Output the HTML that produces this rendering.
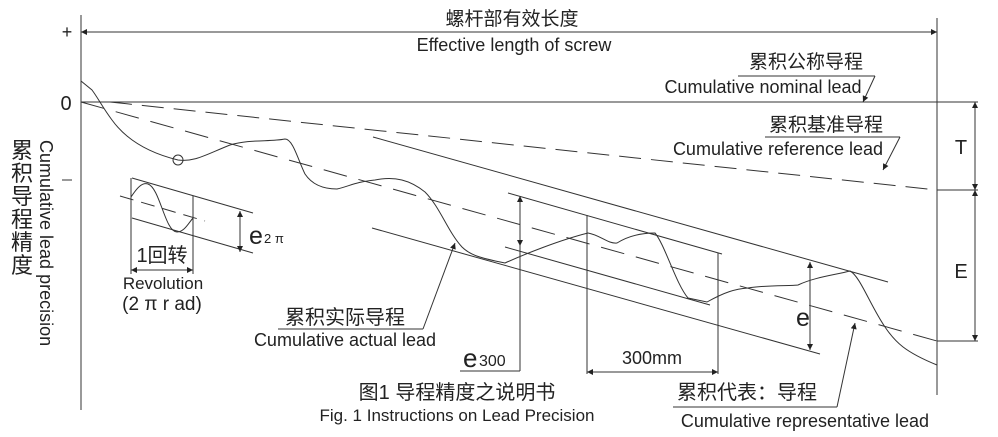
<!DOCTYPE html>
<html><head><meta charset="utf-8"><style>
html,body{margin:0;padding:0;background:#fff;}
svg{display:block;}
text{font-family:"Liberation Sans","Noto Sans CJK SC",sans-serif;fill:#222;}
</style></head><body>
<svg width="998" height="437" viewBox="0 0 998 437" xmlns="http://www.w3.org/2000/svg">
<defs>
<marker id="a" viewBox="0 0 10 10" refX="10" refY="5" markerWidth="14" markerHeight="6" orient="auto-start-reverse" markerUnits="userSpaceOnUse"><path d="M0,0 L10,5 L0,10 z" fill="#222"/></marker>
</defs>
<g stroke="#333" stroke-width="1" fill="none">
<line x1="81" y1="15" x2="81" y2="410"/>
<line x1="937" y1="18" x2="937" y2="395"/>
<line x1="81" y1="32" x2="937" y2="32" marker-start="url(#a)" marker-end="url(#a)"/>
<line x1="81" y1="102" x2="978" y2="102"/>
<line x1="937" y1="190" x2="978" y2="190"/>
<line x1="937" y1="341" x2="978" y2="341"/>
<line x1="975" y1="102" x2="975" y2="190" marker-start="url(#a)" marker-end="url(#a)"/>
<line x1="975" y1="190" x2="975" y2="341" marker-start="url(#a)" marker-end="url(#a)"/>
<line x1="110" y1="102" x2="937" y2="190" stroke-dasharray="22,10"/>
<line x1="81" y1="102" x2="937" y2="341" stroke-dasharray="24,12"/>
<line x1="373" y1="137" x2="888" y2="282"/>
<line x1="372" y1="228" x2="820" y2="354"/>
<line x1="508" y1="193" x2="722" y2="254"/>
<line x1="505" y1="247" x2="710" y2="305"/>
<line x1="520" y1="196" x2="520" y2="246" marker-start="url(#a)" marker-end="url(#a)"/>
<line x1="520" y1="246" x2="520" y2="371"/>
<line x1="460" y1="371" x2="520" y2="371"/>
<line x1="587" y1="215" x2="587" y2="374"/>
<line x1="718" y1="253" x2="718" y2="374"/>
<line x1="587" y1="372" x2="718" y2="372" marker-start="url(#a)" marker-end="url(#a)"/>
<line x1="810" y1="262" x2="810" y2="350" marker-start="url(#a)" marker-end="url(#a)"/>
<line x1="131" y1="178" x2="131" y2="274"/>
<line x1="193" y1="196" x2="193" y2="274"/>
<line x1="131" y1="270" x2="193" y2="270" marker-start="url(#a)" marker-end="url(#a)"/>
<line x1="132" y1="178" x2="253" y2="213"/>
<line x1="132" y1="218" x2="253" y2="253"/>
<line x1="120" y1="196" x2="205" y2="221" stroke-dasharray="14,8"/>
<path d="M131,197 C137,188 142,182 148,184 C160,188 165,232 177,232 C184,232 188,224 193,218"/>
<line x1="240" y1="211" x2="240" y2="252" marker-start="url(#a)" marker-end="url(#a)"/>
<path d="M81,81 L92,90 C98,98 103,108 112,120 C125,138 145,152 178,160 C195,162 205,155 230,145 C250,139 270,142 285,139 C293,139 298,160 305,174 C313,186 325,189 337,189 C350,186 355,182 375,180 C395,176 410,180 425,192 C440,207 448,232 462,247 C470,255 480,258 505,263 C525,254 560,240 588,233 C600,235 608,244 617,243 C628,236 642,233 655,233 C665,245 676,284 688,298 L707,302 C725,292 735,289 748,288 C765,285 790,286 798,285 C815,277 835,275 850,271 C860,276 870,305 885,327 C895,342 905,352 937,365"/>
<circle cx="178" cy="160" r="5"/>
<line x1="738" y1="76" x2="875" y2="76"/>
<line x1="875" y1="76" x2="863" y2="102" marker-end="url(#a)"/>
<line x1="765" y1="137" x2="900" y2="137"/>
<line x1="900" y1="137" x2="883" y2="170" marker-end="url(#a)"/>
<line x1="278" y1="329" x2="423" y2="329"/>
<line x1="423" y1="329" x2="455" y2="243" marker-end="url(#a)"/>
<line x1="673" y1="407" x2="837" y2="407"/>
<line x1="837" y1="407" x2="855" y2="323" marker-end="url(#a)"/>
<line x1="62" y1="180" x2="72" y2="180"/>
</g>
<g font-size="18">
<text x="67" y="38" text-anchor="middle" font-size="18">+</text>
<text x="66" y="110" text-anchor="middle" font-size="20">0</text>
<text x="512" y="25" text-anchor="middle" font-size="19">螺杆部有效长度</text>
<text x="514" y="51" text-anchor="middle">Effective length of screw</text>
<text x="806" y="68" text-anchor="middle" font-size="19">累积公称导程</text>
<text x="763" y="93" text-anchor="middle">Cumulative nominal lead</text>
<text x="826" y="131" text-anchor="middle" font-size="19">累积基准导程</text>
<text x="778" y="155" text-anchor="middle">Cumulative reference lead</text>
<text x="961" y="154" text-anchor="middle" font-size="20">T</text>
<text x="961" y="278" text-anchor="middle" font-size="20">E</text>
<text x="249" y="244" font-size="25">e</text><text x="264" y="243" font-size="13">2 π</text>
<text x="162" y="262" text-anchor="middle" font-size="20">1回转</text>
<text x="163" y="289" text-anchor="middle" font-size="17">Revolution</text>
<text x="162" y="310" text-anchor="middle" font-size="19">(2 π r ad)</text>
<text x="345" y="324" text-anchor="middle" font-size="20">累积实际导程</text>
<text x="345" y="346" text-anchor="middle">Cumulative actual lead</text>
<text x="463" y="367" font-size="26">e</text><text x="479" y="366" font-size="16">300</text>
<text x="652" y="364" text-anchor="middle" font-size="18">300mm</text>
<text x="803" y="326" text-anchor="middle" font-size="25">e</text>
<text x="457" y="399" text-anchor="middle" font-size="20">图1  导程精度之说明书</text>
<text x="457" y="421" text-anchor="middle" font-size="17">Fig. 1 Instructions on Lead Precision</text>
<text x="747" y="399" text-anchor="middle" font-size="20">累积代表：导程</text>
<text x="805" y="427" text-anchor="middle">Cumulative representative lead</text>
<g font-size="22">
<text x="22" y="158" text-anchor="middle">累</text>
<text x="22" y="181" text-anchor="middle">积</text>
<text x="22" y="204" text-anchor="middle">导</text>
<text x="22" y="227" text-anchor="middle">程</text>
<text x="22" y="250" text-anchor="middle">精</text>
<text x="22" y="273" text-anchor="middle">度</text>
</g>
<text transform="translate(40,140) rotate(90)" font-size="18">Cumulative lead precision</text>
</g>
</svg>
</body></html>
